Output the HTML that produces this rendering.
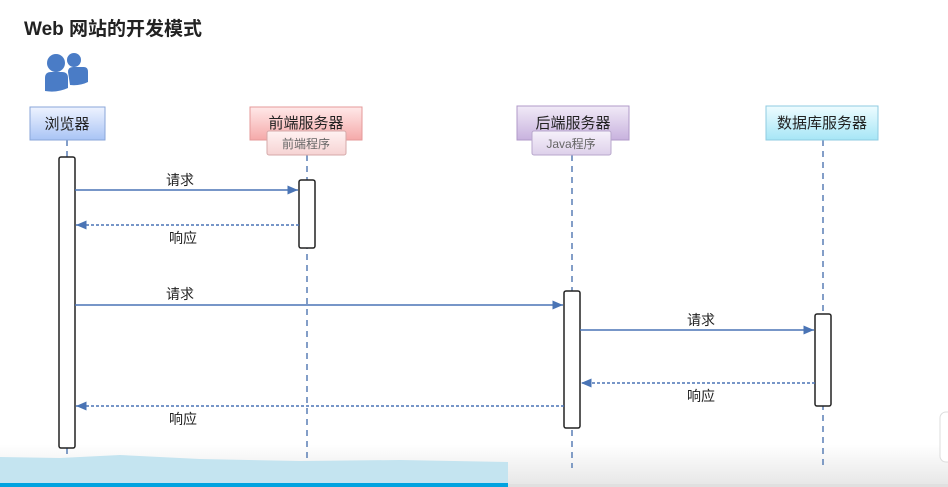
<!DOCTYPE html>
<html><head><meta charset="utf-8"><style>
body{margin:0;width:948px;height:487px;overflow:hidden;background:#fff;font-family:"Liberation Sans","Noto Sans CJK SC",sans-serif}
</style></head><body>
<svg width="948" height="487" xmlns="http://www.w3.org/2000/svg" style="position:absolute;left:0;top:0">
<defs>
<linearGradient id="bg" x1="0" y1="0" x2="0" y2="1"><stop offset="0" stop-color="#fff"/><stop offset="0.6" stop-color="#fff"/><stop offset="1" stop-color="#e6e6e6"/></linearGradient>
<linearGradient id="gb" x1="0" y1="0" x2="0" y2="1"><stop offset="0" stop-color="#eef3ff"/><stop offset="1" stop-color="#a9c4f5"/></linearGradient>
<linearGradient id="gp" x1="0" y1="0" x2="0" y2="1"><stop offset="0" stop-color="#ffe9e9"/><stop offset="1" stop-color="#f5a9a9"/></linearGradient>
<linearGradient id="gv" x1="0" y1="0" x2="0" y2="1"><stop offset="0" stop-color="#f1eaf7"/><stop offset="1" stop-color="#c8b2de"/></linearGradient>
<linearGradient id="gc" x1="0" y1="0" x2="0" y2="1"><stop offset="0" stop-color="#eefcff"/><stop offset="1" stop-color="#a6e6f6"/></linearGradient>
<linearGradient id="gs" x1="0" y1="0" x2="0" y2="1"><stop offset="0" stop-color="#fff2f2"/><stop offset="1" stop-color="#f6d3d3"/></linearGradient>
<linearGradient id="gs2" x1="0" y1="0" x2="0" y2="1"><stop offset="0" stop-color="#f6f1fa"/><stop offset="1" stop-color="#ddd0ea"/></linearGradient>
<marker id="ah" markerWidth="8" markerHeight="8" refX="7" refY="4" orient="auto"><path d="M0,1 L7,4 L0,7z" fill="#4a74b5"/></marker>
</defs>
<rect x="0" y="380" width="948" height="107" fill="url(#bg)"/>
<text x="24" y="35" font-size="19" font-weight="bold" fill="#222">Web 网站的开发模式</text>
<g fill="#4a7cc6">
<circle cx="74" cy="60" r="7"/><path d="M68,72 Q68,67 73,67 L84,67 Q88,67 88,72 L88,82 Q80,86 70,85 Z"/>
<circle cx="56" cy="63" r="9"/><path d="M45,78 Q45,72 51,72 L62,72 Q68,72 68,78 L68,88 Q57,93 45,91 Z"/>
</g>
<g stroke="#5a7fb5" stroke-width="1.5" stroke-dasharray="6,5">
<line x1="67" y1="140" x2="67" y2="468"/><line x1="307" y1="155" x2="307" y2="468"/>
<line x1="572" y1="155" x2="572" y2="468"/><line x1="823" y1="140" x2="823" y2="468"/>
</g>
<g font-size="15" text-anchor="middle" fill="#222">
<rect x="30" y="107" width="75" height="33" fill="url(#gb)" stroke="#8aa6d8"/><text x="67" y="129">浏览器</text>
<rect x="250" y="107" width="112" height="33" fill="url(#gp)" stroke="#e49a9a"/><text x="306" y="128">前端服务器</text>
<rect x="517" y="106" width="112" height="34" fill="url(#gv)" stroke="#b09ac8"/><text x="573" y="128">后端服务器</text>
<rect x="766" y="106" width="112" height="34" fill="url(#gc)" stroke="#8fcbe0"/><text x="822" y="128">数据库服务器</text>
</g>
<g font-size="12" text-anchor="middle" fill="#666">
<rect x="267" y="131" width="79" height="24" rx="2" fill="url(#gs)" stroke="#d5a9a9"/><text x="306" y="148">前端程序</text>
<rect x="532" y="131" width="79" height="24" rx="2" fill="url(#gs2)" stroke="#b8a7cc"/><text x="571" y="148">Java程序</text>
</g>
<g fill="#fff" stroke="#222" stroke-width="1.5">
<rect x="59" y="157" width="16" height="291" rx="2"/><rect x="299" y="180" width="16" height="68" rx="2"/>
<rect x="564" y="291" width="16" height="137" rx="2"/><rect x="815" y="314" width="16" height="92" rx="2"/>
</g>
<g stroke="#4a74b5" stroke-width="1.5" marker-end="url(#ah)">
<line x1="75" y1="190" x2="298" y2="190"/>
<line x1="75" y1="305" x2="563" y2="305"/>
<line x1="580" y1="330" x2="814" y2="330"/>
<g stroke-dasharray="3,2">
<line x1="299" y1="225" x2="76" y2="225"/>
<line x1="815" y1="383" x2="581" y2="383"/>
<line x1="564" y1="406" x2="76" y2="406"/>
</g></g>
<g font-size="14" text-anchor="middle" fill="#222">
<text x="180" y="185">请求</text><text x="183" y="243">响应</text>
<text x="180" y="299">请求</text><text x="701" y="325">请求</text>
<text x="701" y="401">响应</text><text x="183" y="424">响应</text>
</g>
<path d="M0,457 L60,458 L120,455 L200,459 L300,461 L400,460 L508,462 L508,483 L0,483 Z" fill="#c4e4f0"/>
<rect x="0" y="483" width="508" height="4" fill="#00a3e0"/>
<rect x="508" y="484" width="440" height="3" fill="#e0e0e0"/>
<rect x="940" y="412" width="20" height="50" rx="6" fill="#fff" stroke="#ddd"/>
</svg>
</body></html>
